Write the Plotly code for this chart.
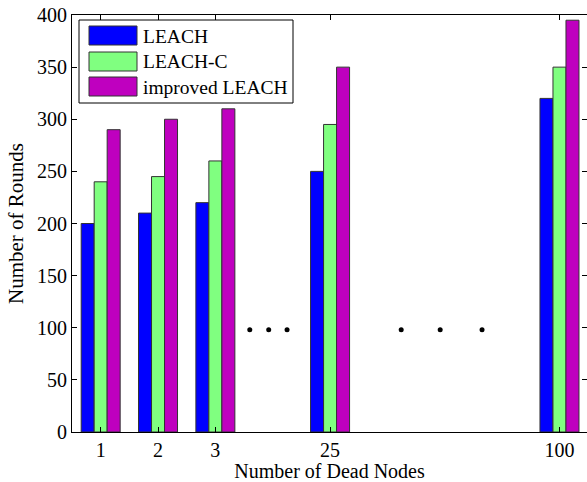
import plotly.graph_objects as go

positions = [1, 2, 3, 5, 9]
tick_labels = ["1", "2", "3", "25", "100"]
series_names = ["LEACH", "LEACH-C", "improved LEACH"]
leach = [200, 210, 220, 250, 320]
leach_c = [240, 245, 260, 295, 350]
improved = [290, 300, 310, 350, 395]
colors = ["#0000FF", "#80FF80", "#BF00BF"]
dots_x = [3.6, 3.93, 4.25, 6.24, 6.92, 7.65]
dots_y = [98, 98, 98, 98, 98, 98]

font = "Liberation Serif, Times New Roman, serif"
W, H = 587, 482
L, R, T, B = 72, 0, 15, 50
PW = W - L - R
PH = H - T - B


def px(x):
    return (x - L) / PW


def py(y):
    return 1 - (y - T) / PH


fig = go.Figure()
for name, vals, col in zip(series_names, [leach, leach_c, improved], colors):
    fig.add_trace(go.Bar(x=positions, y=vals, name=name, showlegend=False,
                         marker=dict(color=col, line=dict(color="#333333", width=1))))
fig.add_trace(go.Scatter(x=dots_x, y=dots_y, mode="markers", showlegend=False,
                         marker=dict(color="black", size=5)))

# custom MATLAB-style legend
shapes = [dict(type="rect", xref="paper", yref="paper",
               x0=px(79), x1=px(293), y0=py(103), y1=py(20),
               line=dict(color="black", width=1), fillcolor="white", layer="above")]
annotations = []
row_tops = [26, 52, 77]
for name, col, top in zip(series_names, colors, row_tops):
    shapes.append(dict(type="rect", xref="paper", yref="paper",
                       x0=px(89), x1=px(137), y0=py(top + 19), y1=py(top),
                       line=dict(color="#333333", width=1), fillcolor=col, layer="above"))
    annotations.append(dict(xref="paper", yref="paper", x=px(141), y=py(top + 10),
                            xanchor="left", yanchor="middle", showarrow=False,
                            text=name, font=dict(size=19.5)))

fig.update_layout(
    width=W, height=H,
    margin=dict(l=L, r=R, t=T, b=B),
    paper_bgcolor="white", plot_bgcolor="white",
    barmode="group", bargap=0.32, bargroupgap=0,
    font=dict(family=font, size=20, color="black"),
    showlegend=False,
    shapes=shapes, annotations=annotations,
    xaxis=dict(range=[0.5, 9.48], tickmode="array", tickvals=positions, ticktext=tick_labels,
               ticks="inside", ticklen=5, tickcolor="black", showline=True, linecolor="black",
               linewidth=1, mirror="ticks", showgrid=False, zeroline=False, automargin=False,
               ticklabeloverflow="allow",
               title=dict(text="Number of Dead Nodes", standoff=0, font=dict(size=20))),
    yaxis=dict(range=[0, 400], tickvals=list(range(0, 401, 50)),
               ticks="inside", ticklen=5, tickcolor="black", showline=True, linecolor="black",
               linewidth=1, mirror="ticks", showgrid=False, zeroline=False, automargin=False,
               ticklabeloverflow="allow",
               title=dict(text="Number of Rounds", standoff=7, font=dict(size=21))),
)
fig.write_html("out.html", post_script="document.body.style.margin='0';",
               config={"displayModeBar": False})
